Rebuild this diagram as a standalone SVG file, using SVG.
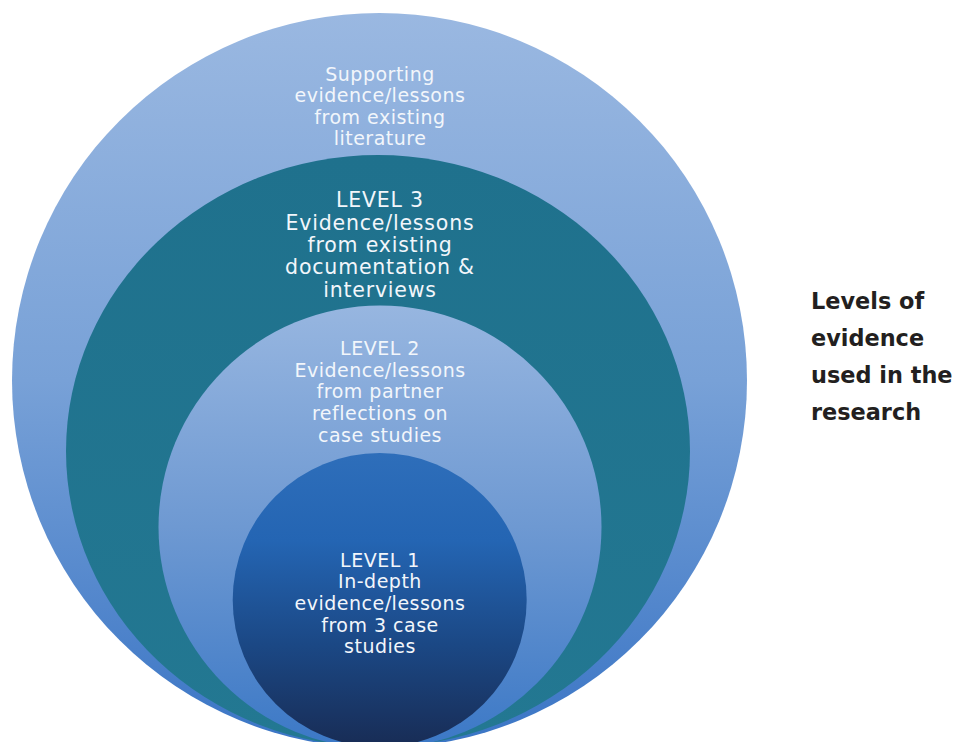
<svg xmlns="http://www.w3.org/2000/svg" width="959" height="742" viewBox="0 0 959 742">
<defs>
<linearGradient id="gOuter" x1="0" y1="0" x2="0" y2="1">
<stop offset="0" stop-color="#9ab8e1"/>
<stop offset="0.5" stop-color="#78a1d7"/>
<stop offset="1" stop-color="#3a75c5"/>
</linearGradient>
<linearGradient id="gL3" x1="0" y1="0" x2="0" y2="1">
<stop offset="0" stop-color="#1f718d"/>
<stop offset="1" stop-color="#237892"/>
</linearGradient>
<linearGradient id="gL2" x1="0" y1="0" x2="0" y2="1">
<stop offset="0" stop-color="#97b6e0"/>
<stop offset="0.5" stop-color="#6e99d2"/>
<stop offset="1" stop-color="#3b78c6"/>
</linearGradient>
<linearGradient id="gL1" x1="0" y1="0" x2="0" y2="1">
<stop offset="0" stop-color="#2e6eba"/>
<stop offset="0.3" stop-color="#2465b3"/>
<stop offset="0.65" stop-color="#1b4885"/>
<stop offset="1" stop-color="#182c55"/>
</linearGradient>
</defs>
<style>
.lbl{font-family:"DejaVu Sans","Verdana",sans-serif;fill:#f2f6fb;text-anchor:middle}
.s20{font-size:19px;letter-spacing:0.5px}
.s22{font-size:20.5px;letter-spacing:0.8px}
.title{font-family:"DejaVu Sans",sans-serif;font-weight:bold;font-size:22.4px;fill:#231f20}
</style>
<rect width="959" height="742" fill="#ffffff"/>
<g id="outer">
<circle cx="379.5" cy="380.5" r="367.5" fill="url(#gOuter)"/>
<text class="lbl s20" x="380" y="81">Supporting</text>
<text class="lbl s20" x="380" y="102">evidence/lessons</text>
<text class="lbl s20" x="380" y="124">from existing</text>
<text class="lbl s20" x="380" y="145">literature</text>
</g>
<g id="level3">
<ellipse cx="378" cy="451" rx="312" ry="296" fill="url(#gL3)"/>
<text class="lbl s22" x="380" y="207">LEVEL 3</text>
<text class="lbl s22" x="380" y="230">Evidence/lessons</text>
<text class="lbl s22" x="380" y="252">from existing</text>
<text class="lbl s22" x="380" y="274">documentation &amp;</text>
<text class="lbl s22" x="380" y="297">interviews</text>
</g>
<g id="level2">
<circle cx="380" cy="527" r="221.5" fill="url(#gL2)"/>
<text class="lbl s20" x="380" y="355">LEVEL 2</text>
<text class="lbl s20" x="380" y="377">Evidence/lessons</text>
<text class="lbl s20" x="380" y="398">from partner</text>
<text class="lbl s20" x="380" y="420">reflections on</text>
<text class="lbl s20" x="380" y="442">case studies</text>
</g>
<g id="level1">
<circle cx="379.7" cy="600" r="147" fill="url(#gL1)"/>
<text class="lbl s20" x="380" y="567">LEVEL 1</text>
<text class="lbl s20" x="380" y="588">In-depth</text>
<text class="lbl s20" x="380" y="610">evidence/lessons</text>
<text class="lbl s20" x="380" y="632">from 3 case</text>
<text class="lbl s20" x="380" y="653">studies</text>
</g>
<g id="title">
<text class="title" x="811" y="309">Levels of</text>
<text class="title" x="811" y="346">evidence</text>
<text class="title" x="811" y="383">used in the</text>
<text class="title" x="811" y="420">research</text>
</g>
<g id="connectors"/>
</svg>
